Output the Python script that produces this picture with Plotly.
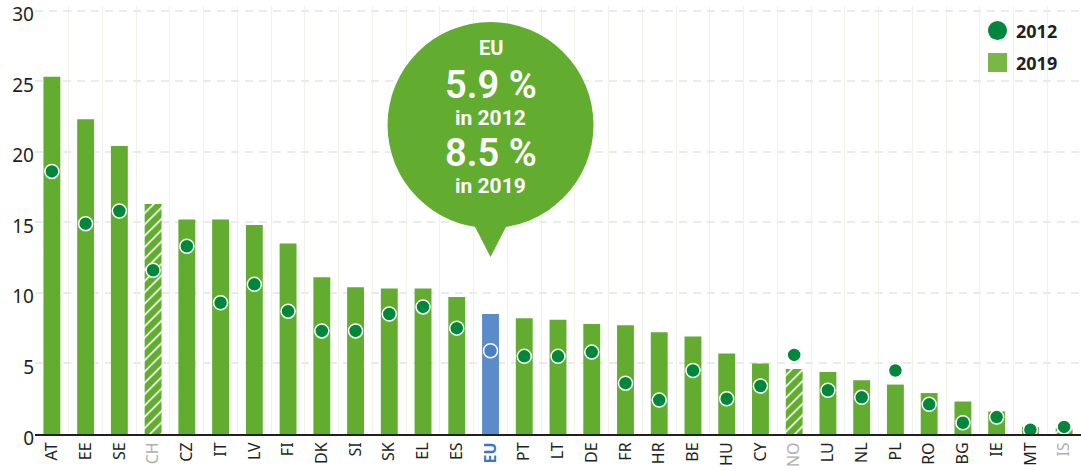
import plotly.graph_objects as go

categories = ["AT", "EE", "SE", "CH", "CZ", "IT", "LV", "FI", "DK", "SI", "SK", "EL", "ES", "EU",
              "PT", "LT", "DE", "FR", "HR", "BE", "HU", "CY", "NO", "LU", "NL", "PL", "RO", "BG",
              "IE", "MT", "IS"]
values_2019 = [25.3, 22.3, 20.4, 16.3, 15.2, 15.2, 14.8, 13.5, 11.1, 10.4, 10.3, 10.3, 9.7, 8.5,
               8.2, 8.1, 7.8, 7.7, 7.2, 6.9, 5.7, 5.0, 4.6, 4.4, 3.8, 3.5, 2.9, 2.3,
               1.6, 0.5, 0.4]
values_2012 = [18.6, 14.9, 15.8, 11.6, 13.3, 9.3, 10.6, 8.7, 7.3, 7.3, 8.5, 9.0, 7.5, 5.9,
               5.5, 5.5, 5.8, 3.6, 2.4, 4.5, 2.5, 3.4, 5.6, 3.1, 2.6, 4.5, 2.1, 0.8,
               1.2, 0.3, 0.5]
non_eu = ["CH", "NO", "IS"]
aggregate = "EU"
y_ticks = [0, 5, 10, 15, 20, 25, 30]
callout_lines = ["EU", "5.9 %", "in 2012", "8.5 %", "in 2019"]
legend_labels = ["2012", "2019"]

GREEN = "#62ac2f"
DARK = "#00873c"
BLUE = "#5b8bc8"
TXT = "#231f20"
GREY = "#b0b0b0"

solid_vals = [None if c in non_eu else v for c, v in zip(categories, values_2019)]
hatch_vals = [v if c in non_eu else None for c, v in zip(categories, values_2019)]
bar_colors = [BLUE if c == aggregate else GREEN for c in categories]
dot_colors = ["#4a7fc1" if c == aggregate else DARK for c in categories]

ticktext = []
for c in categories:
    if c in non_eu:
        ticktext.append(f'<span style="color:{GREY}">{c}</span>')
    elif c == aggregate:
        ticktext.append(f'<span style="color:#3b78c2"><b>{c}</b></span>')
    else:
        ticktext.append(c)

fig = go.Figure()
fig.add_trace(go.Bar(
    x=categories, y=solid_vals,
    marker=dict(color=bar_colors, line=dict(width=0)),
    width=0.5, showlegend=False, hoverinfo="x+y"))
fig.add_trace(go.Bar(
    x=categories, y=hatch_vals,
    marker=dict(color=GREEN, line=dict(width=0),
                pattern=dict(shape="/", fgcolor="white", bgcolor=GREEN,
                             size=8, solidity=0.2, fillmode="replace")),
    width=0.5, showlegend=False, hoverinfo="x+y"))
fig.add_trace(go.Scatter(
    x=categories, y=values_2012, mode="markers",
    marker=dict(size=14, color=dot_colors, line=dict(color="white", width=1.5)),
    showlegend=False, cliponaxis=False))

W, H = 1081, 471
ml, mr, mt, mb = 35, 0, 6, 37
pw, ph = W - ml - mr, H - mt - mb
ymax = 30 + (10.5 - mt) * 30 / (H - mb - 10.5)

def px(x):
    return (x - ml) / pw

def py(y):
    return (H - mb - y) / ph

shapes = []
eu_idx = categories.index(aggregate)
# callout bubble
shapes.append(dict(type="circle", xref="x", yref="paper", xsizemode="pixel", xanchor=eu_idx,
                   x0=-103, x1=103, y0=py(228), y1=py(22), fillcolor=GREEN,
                   line=dict(width=0), layer="above"))
shapes.append(dict(type="path", xref="x", yref="paper", xsizemode="pixel", xanchor=eu_idx,
                   path=f"M -18,{py(222)} L 18,{py(222)} L 0,{py(257)} Z",
                   fillcolor=GREEN, line=dict(width=0), layer="above"))
# legend
shapes.append(dict(type="circle", xref="paper", yref="paper", x0=px(988), x1=px(1007),
                   y0=py(40), y1=py(21), fillcolor=DARK, line=dict(width=0)))
shapes.append(dict(type="rect", xref="paper", yref="paper", x0=px(988), x1=px(1007),
                   y0=py(72), y1=py(53), fillcolor="#7ab648", line=dict(width=0)))

annotations = []
specs = [(48, 20, 700), (85, 38, 600), (118, 21, 700), (153, 38, 600), (186, 21, 700)]
for text, (ypix, size, weight) in zip(callout_lines, specs):
    annotations.append(dict(x=eu_idx, xref="x", y=py(ypix), yref="paper",
                            text=text, showarrow=False,
                            font=dict(family="Roboto", size=size, color="white", weight=weight),
                            xanchor="center", yanchor="middle"))
for text, ypix in zip(legend_labels, [31, 63]):
    annotations.append(dict(x=px(1014), xref="paper", y=py(ypix), yref="paper",
                            text=f"<b>{text}</b>", showarrow=False, xanchor="left",
                            yanchor="middle", font=dict(family="Noto Sans", size=18, color=TXT)))

fig.update_layout(
    width=W, height=H, margin=dict(l=ml, r=mr, t=mt, b=mb),
    plot_bgcolor="white", paper_bgcolor="white",
    font=dict(family="Noto Sans, Open Sans, sans-serif", color=TXT),
    shapes=shapes, annotations=annotations, bargap=0.5, barmode="overlay",
    xaxis=dict(type="category", tickmode="array", tickvals=categories, ticktext=ticktext,
               tickangle=-90, tickfont=dict(size=16, color=TXT), showgrid=True,
               gridcolor="#f2f2ea", gridwidth=1, tickson="boundaries", ticks="",
               showline=True, linecolor=TXT, linewidth=2, automargin=False,
               range=[-0.5, len(categories) - 0.5]),
    yaxis=dict(range=[0, ymax], tickvals=y_ticks, showgrid=True, gridcolor="#ebebeb",
               gridwidth=1.5, griddash="8px,6px", zeroline=False, ticklabeloverflow="allow",
               ticklabelshift=4, tickfont=dict(size=19, color=TXT), ticks="",
               automargin=False),
)

fig.write_html("out.html", config={"displayModeBar": False},
               post_script="document.body.style.margin='0px';")
